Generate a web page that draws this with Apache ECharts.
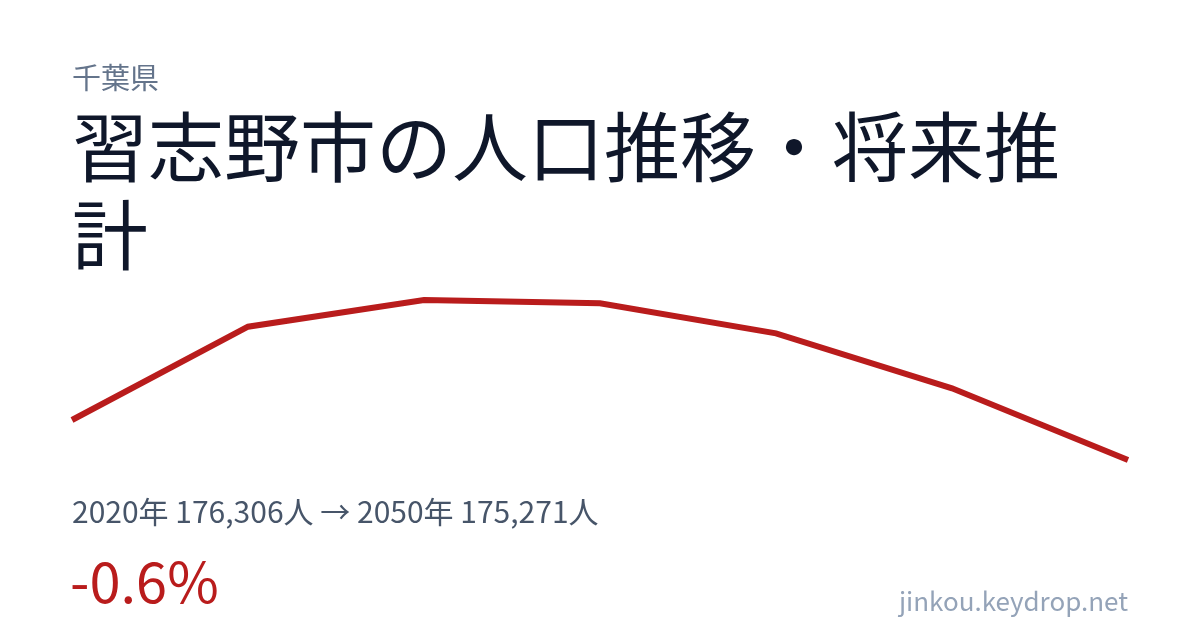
<!DOCTYPE html>
<html>
<head>
<meta charset="utf-8">
<script src="https://cdn.jsdelivr.net/npm/echarts@6/dist/echarts.min.js"></script>
<style>
html,body{margin:0;padding:0;background:#fff;}
#c{width:1200px;height:630px;}
</style>
</head>
<body>
<div id="c"></div>
<script>
const years = ['2020','2025','2030','2035','2040','2045','2050'];
const population = [176306, 178720, 179411, 179326, 178549, 177126, 175271];
const prefecture = '千葉県';
const titleText = '習志野市の人口推移・将来推計';
const summaryText = '2020年 176,306人 → 2050年 175,271人';
const changeText = '-0.6%';
const siteText = 'jinkou.keydrop.net';

const FONT = '"Noto Sans CJK JP", "Noto Sans", sans-serif';
const chart = echarts.init(document.getElementById('c'), null, {renderer: 'canvas'});
chart.setOption({
  backgroundColor: '#ffffff',
  animation: false,
  grid: {left: 72, right: 72, top: 300, bottom: 170, containLabel: false},
  xAxis: {type: 'category', data: years, boundaryGap: false, show: false},
  yAxis: {type: 'value', min: 'dataMin', max: 'dataMax', show: false, splitLine: {show: false}},
  series: [{
    type: 'line',
    data: population,
    symbol: 'none',
    lineStyle: {color: '#b91c1c', width: 6, cap: 'butt', join: 'miter'},
    silent: true
  }],
  graphic: [
    {type: 'text', left: 72, top: 63, style: {text: prefecture, font: '29px ' + FONT, fill: '#64748b'}},
    {type: 'text', left: 72, top: 103, style: {text: titleText, font: '76px ' + FONT, fill: '#0f172a', width: 1056, overflow: 'break', lineHeight: 88}},
    {type: 'text', left: 72, top: 497, style: {text: summaryText, font: '30px ' + FONT, fill: '#475569'}},
    {type: 'text', left: 70, top: 554, style: {text: changeText, font: '56px ' + FONT, fill: '#b91c1c'}},
    {type: 'text', right: 72, top: 588, style: {text: siteText, font: '26px ' + FONT, fill: '#94a3b8'}}
  ]
});
</script>
</body>
</html>
